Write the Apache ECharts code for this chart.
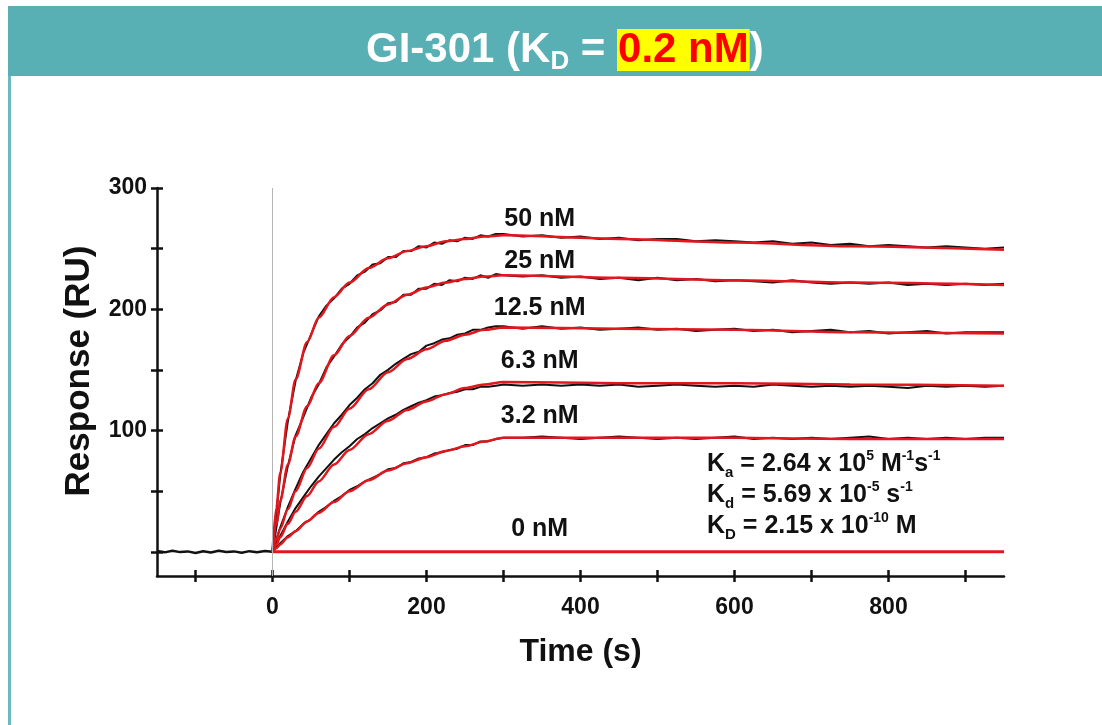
<!DOCTYPE html>
<html>
<head>
<meta charset="utf-8">
<title>GI-301 binding kinetics</title>
<script src="https://cdn.jsdelivr.net/npm/echarts@6/dist/echarts.min.js"></script>
<style>
  html, body { margin: 0; padding: 0; background: #fff; }
  #chart { width: 1102px; height: 725px; }
</style>
</head>
<body>
<div id="chart"></div>
<script>
// time grids (s)
var baseTime = [-150, -140, -130, -120, -110, -100, -90, -80, -70, -60, -50, -40, -30, -20, -10, 0];
var assocTime = [0, 10, 20, 30, 40, 50, 60, 70, 80, 90, 100, 110, 120, 130, 140, 150, 160, 170, 180, 190, 200,
  210, 220, 230, 240, 250, 260, 270, 280, 290, 300];
var dissocTime = [325, 350, 375, 400, 425, 450, 475, 500, 525, 550, 575, 600, 625, 650, 675, 700, 725, 750,
  775, 800, 825, 850, 875, 900, 925, 950];
var fitTime = [0, 5, 10, 20, 30, 45, 60, 80, 100, 125, 150, 175, 200, 225, 250, 275, 300, 450, 600, 750, 950];

// concentrations / labels
var concLabels = ['50 nM', '25 nM', '12.5 nM', '6.3 nM', '3.2 nM', '0 nM'];

// baseline before injection (RU)
var baseRaw = [0.6, -0.5, 0.8, -0.3, 0.3, -1.0, 0.4, -0.6, 0.9, -0.2, 0.3, -0.8, 0.5, -0.4, 0.6, 0];

// measured sensorgrams (black), assocTime then dissocTime
var raw50 = [0, 63, 108, 141, 164, 179, 194, 203, 209, 217, 221, 228, 231, 237, 238, 243, 243, 248, 248, 252, 251,
  255, 254, 257, 256, 259, 258, 261, 260, 262, 262,
  260, 261, 259, 260, 258, 259, 257, 258, 258, 256, 257, 256, 255, 256, 254, 255, 253, 254, 252, 253, 252, 251,
  252, 251, 250, 251];
var raw25 = [0, 40, 71, 96, 111, 127, 138, 152, 161, 171, 177, 185, 189, 196, 199, 205, 206, 212, 212, 217, 217,
  221, 220, 224, 223, 226, 225, 228, 226, 229, 228,
  227, 228, 226, 227, 225, 226, 224, 226, 224, 225, 223, 224, 223, 222, 224, 222, 221, 222, 221, 222, 220, 221,
  220, 221, 220, 221];
var raw12 = [0, 20, 37, 52, 66, 77, 88, 97, 106, 113, 121, 127, 134, 139, 146, 150, 155, 159, 163, 165, 170,
  172, 175, 176, 179, 180, 183, 183, 185, 186, 186,
  184, 186, 184, 185, 183, 184, 185, 183, 184, 182, 183, 184, 182, 183, 181, 182, 183, 181, 182, 180, 181, 182,
  180, 181, 181, 181];
var raw6 = [0, 13, 25, 36, 45, 54, 62, 69, 76, 82, 87, 93, 97, 102, 106, 110, 113, 117, 120, 123, 125,
  128, 129, 131, 132, 134, 134, 136, 136, 137, 138,
  137, 138, 137, 138, 137, 138, 136, 137, 138, 137, 136, 137, 136, 138, 137, 136, 137, 136, 137, 136, 135, 137,
  136, 137, 136, 137];
var raw3 = [0, 7, 13, 17, 23, 27, 33, 37, 42, 46, 51, 54, 58, 61, 64, 68, 69, 73, 74, 77, 78,
  81, 82, 84, 85, 88, 88, 91, 91, 93, 94,
  94, 95, 94, 93, 94, 95, 94, 93, 94, 93, 94, 95, 93, 94, 93, 94, 93, 94, 95, 93, 94, 93, 94, 93, 94, 94];

// 1:1 fits (red), on fitTime
var fit50 = [0, 36, 65, 110, 142, 173, 193, 210, 222, 234, 242, 248, 252, 256, 258, 260, 261, 258, 255, 252, 249];
var fit25 = [0, 22, 42, 72, 95, 120, 139, 162, 178, 193, 204, 212, 218, 222, 225, 227, 228, 226, 224, 222, 220];
var fit12 = [0, 10, 19, 35, 50, 69, 85, 103, 118, 134, 148, 159, 167, 174, 179, 183, 185, 184, 183, 181, 180];
var fit6 = [0, 6, 12, 23, 33, 46, 58, 72, 84, 97, 108, 117, 124, 130, 135, 138, 140, 139, 139, 138, 137];
var fit3 = [0, 3, 6, 12, 17, 25, 32, 41, 50, 59, 67, 73, 78, 83, 87, 91, 94, 94, 94, 93, 93];
var fit0Time = [0, 950];
var fit0 = [0, 0];

// axis ticks
var xTicks = [-100, 0, 100, 200, 300, 400, 500, 600, 700, 800, 900];
var xLabels = [0, 200, 400, 600, 800];
var yTicks = [0, 50, 100, 150, 200, 250, 300];
var yLabels = [100, 200, 300];

var FONT = "'Liberation Sans', Arial, Helvetica, sans-serif";
var RED = '#E3161D';
var INK = '#111111';
var TEAL = '#58B0B5';

function pairs(xs, ys) {
    return xs.map(function (x, i) { return [x, ys[i]]; });
}

var rawTime = assocTime.concat(dissocTime);
var rawSets = [raw50, raw25, raw12, raw6, raw3];
var fitSets = [fit50, fit25, fit12, fit6, fit3];
// where each concentration label sits (time, RU)
var labelAt = [[347, 274], [347, 240], [347, 201], [347, 157], [347, 112], [347, 19]];

var series = [];
series.push({
    name: 'baseline',
    type: 'line',
    data: pairs(baseTime, baseRaw),
    showSymbol: false,
    lineStyle: { color: INK, width: 2.5 },
    z: 2,
    markLine: {
        silent: true,
        symbol: ['none', 'none'],
        label: { show: false },
        lineStyle: { color: '#b5b5b5', width: 1, type: 'solid' },
        data: [{ xAxis: 0 }]
    }
});
rawSets.forEach(function (vals, i) {
    series.push({
        name: concLabels[i] + ' data',
        type: 'line',
        data: pairs(rawTime, vals),
        showSymbol: false,
        lineStyle: { color: INK, width: 2 },
        z: 2
    });
});
fitSets.forEach(function (vals, i) {
    series.push({
        name: concLabels[i] + ' fit',
        type: 'line',
        data: pairs(fitTime, vals),
        showSymbol: false,
        smooth: 0.3,
        smoothMonotone: 'x',
        lineStyle: { color: RED, width: 2.5 },
        z: 3
    });
});
series.push({
    name: '0 nM fit',
    type: 'line',
    data: pairs(fit0Time, fit0),
    showSymbol: false,
    lineStyle: { color: RED, width: 3 },
    z: 3
});
series.push({
    name: 'labels',
    type: 'scatter',
    symbolSize: 0,
    itemStyle: { opacity: 1 },
    data: labelAt.map(function (p, i) { return [p[0], p[1], concLabels[i]]; }),
    label: {
        show: true,
        position: 'inside',
        formatter: function (p) { return p.value[2]; },
        color: INK,
        fontFamily: FONT,
        fontWeight: 'bold',
        fontSize: 25
    },
    z: 4
});

var main = { fontFamily: FONT, fontWeight: 'bold', fontSize: 25, color: INK, lineHeight: 31 };
var sub = { fontFamily: FONT, fontWeight: 'bold', fontSize: 15, color: INK, lineHeight: 20, verticalAlign: 'bottom' };
var sup = { fontFamily: FONT, fontWeight: 'bold', fontSize: 14, color: INK, lineHeight: 22, verticalAlign: 'top' };

var option = {
    animation: false,
    backgroundColor: '#fff',
    graphic: [
        { type: 'rect', left: 8, top: 6, shape: { width: 1094, height: 70 }, style: { fill: TEAL }, silent: true },
        { type: 'rect', left: 8, top: 76, shape: { width: 3, height: 649 }, style: { fill: '#6ABABF' }, silent: true }
    ],
    title: [{
        text: '{w|GI-301 (K}{d|D}{w| = }{h|0.2 nM}{w|)}',
        left: 366,
        top: 25,
        padding: 0,
        textStyle: {
            rich: {
                w: { fontFamily: FONT, fontWeight: 'bold', fontSize: 42, color: '#fff', lineHeight: 50 },
                d: { fontFamily: FONT, fontWeight: 'bold', fontSize: 26, color: '#fff', lineHeight: 30, verticalAlign: 'bottom' },
                h: { fontFamily: FONT, fontWeight: 'bold', fontSize: 42, color: '#FF0000', backgroundColor: '#FFFF00',
                    lineHeight: 42, padding: [0, 1, 0, 1] }
            }
        }
    }, {
        text: '{t|K}{s|a}{t| = 2.64 x 10}{p|5}{t| M}{p|-1}{t|s}{p|-1}\n' +
              '{t|K}{s|d}{t| = 5.69 x 10}{p|-5}{t| s}{p|-1}\n' +
              '{t|K}{s|D}{t| = 2.15 x 10}{p|-10}{t| M}',
        left: 707,
        top: 449,
        padding: 0,
        textStyle: { rich: { t: main, s: sub, p: sup } }
    }],
    grid: { left: 157, right: 98, top: 188, bottom: 149 },
    xAxis: [{
        type: 'value',
        min: -150,
        max: 950,
        position: 'bottom',
        name: 'Time (s)',
        nameLocation: 'middle',
        nameGap: 60,
        nameTextStyle: { fontFamily: FONT, fontWeight: 'bold', fontSize: 32, color: INK },
        axisLine: { show: true, onZero: false, lineStyle: { color: INK, width: 2.5 } },
        axisTick: { show: true, inside: false, length: 6, customValues: xTicks, lineStyle: { color: INK, width: 2.5 } },
        axisLabel: { customValues: xLabels, margin: 20, fontFamily: FONT, fontWeight: 'bold', fontSize: 23, color: INK },
        splitLine: { show: false }
    }, {
        type: 'value',
        min: -150,
        max: 950,
        position: 'bottom',
        offset: 0,
        axisLine: { show: false, onZero: false },
        axisTick: { show: true, inside: true, length: 6, customValues: xTicks, lineStyle: { color: INK, width: 2.5 } },
        axisLabel: { show: false },
        splitLine: { show: false }
    }],
    yAxis: [{
        type: 'value',
        min: -20,
        max: 300,
        position: 'left',
        name: 'Response (RU)',
        nameLocation: 'middle',
        nameGap: 60,
        nameTextStyle: { fontFamily: FONT, fontWeight: 'bold', fontSize: 35, color: INK, padding: [0, 0, 0, 22] },
        axisLine: { show: true, onZero: false, lineStyle: { color: INK, width: 2.5 } },
        axisTick: { show: true, inside: false, length: 6, customValues: yTicks, lineStyle: { color: INK, width: 2.5 } },
        axisLabel: { customValues: yLabels, margin: 10, fontFamily: FONT, fontWeight: 'bold', fontSize: 23, color: INK },
        splitLine: { show: false }
    }, {
        type: 'value',
        min: -20,
        max: 300,
        position: 'left',
        offset: 0,
        axisLine: { show: false, onZero: false },
        axisTick: { show: true, inside: true, length: 6, customValues: yTicks, lineStyle: { color: INK, width: 2.5 } },
        axisLabel: { show: false },
        splitLine: { show: false }
    }],
    series: series
};

var myChart = echarts.init(document.getElementById('chart'));
myChart.setOption(option);
window.addEventListener('resize', function () {
    myChart.resize();
});
</script>
</body>
</html>
